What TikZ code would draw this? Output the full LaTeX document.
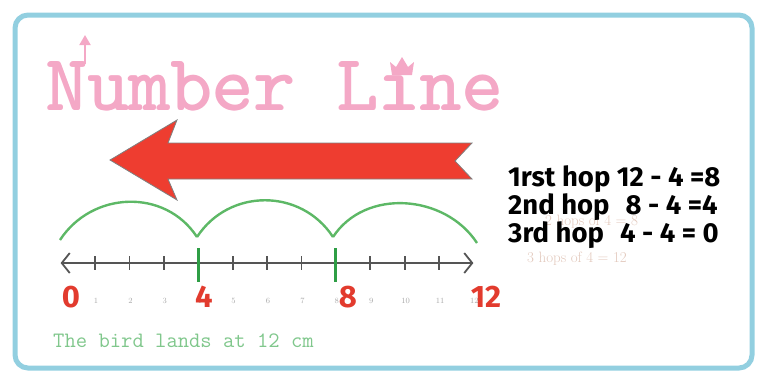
\documentclass[tikz,border=0pt]{standalone}
\usepackage{graphicx}
\usepackage{fontspec}
\newfontfamily\fira{Fira Sans}
\usetikzlibrary{arrows.meta}
\definecolor{bordercol}{HTML}{92CFE0}
\definecolor{titlepink}{HTML}{F4A8C6}
\definecolor{arrowred}{HTML}{EE3D30}
\definecolor{hopgreen}{HTML}{5DB866}
\definecolor{tickgreen}{HTML}{2E9E45}
\definecolor{linegrey}{HTML}{555555}
\definecolor{numred}{HTML}{E23B2E}
\definecolor{smallgrey}{HTML}{A8A8A8}
\definecolor{textgreen}{HTML}{80C78C}
\definecolor{faintbrown}{HTML}{E2C8BC}
\begin{document}
\begin{tikzpicture}[x=1pt,y=-1pt,
  hop/.style={draw=hopgreen, line width=2.4pt},
  tickmark/.style={draw=linegrey, line width=1.8pt},
  bigtick/.style={draw=tickgreen, line width=3pt},
  rednum/.style={text=numred, font=\fira\bfseries\fontsize{31}{31}\selectfont, inner sep=0pt, anchor=base},
  smallnum/.style={text=smallgrey, font=\fontsize{8}{8}\selectfont, inner sep=0pt, anchor=base},
  hoptext/.style={font=\fira\bfseries\fontsize{27.5}{27.5}\selectfont, inner sep=0pt, anchor=base west},
  faint/.style={text=faintbrown, font=\fontsize{15}{15}\selectfont, inner sep=0pt, anchor=base west},
  titletext/.style={anchor=base west, inner sep=0pt, text=titlepink},
  ]
\useasboundingbox (0,0) rectangle (757,376);
\draw[bordercol, line width=5pt, rounded corners=13pt] (15,15) rectangle (752,368);
% title (overlaid copies for a heavier stroke)
\node[titletext] (titlea) at (45.4,110) {\resizebox{457pt}{48pt}{\ttfamily Number L\i ne}};
\node[titletext] (titleb) at (46.6,110) {\resizebox{457pt}{48pt}{\ttfamily Number L\i ne}};
\node[titletext] (title) at (46,109.4) {\resizebox{457pt}{48pt}{\ttfamily Number L\i ne}};
\draw[titlepink, line width=2pt, -{Triangle[length=10pt,width=11pt]}] (85,64) -- (85,35);
\fill[titlepink] (392,75) -- (390,62) -- (396,67) -- (402,57) -- (408,67) -- (414,62) -- (412,75) -- cycle;
% big red arrow
\filldraw[fill=arrowred, draw=gray, line width=0.8pt]
  (110,160) -- (177,120) -- (168,143) -- (472,143) -- (455,161) -- (472,179)
  -- (168,179) -- (177,200) -- cycle;
% number line coordinates
\foreach \i in {0,...,12} \coordinate (p\i) at ({60.6+34.4*\i},263);
\coordinate (a0) at (60,240);
\coordinate (a1) at (197,237);
\coordinate (a2) at (333,237);
\coordinate (a3) at (477,243);
% hops
\draw[hop] (a0) .. controls +(32,-49) and +(-32,-49) .. (a1);
\draw[hop] (a1) .. controls +(32,-49) and +(-32,-49) .. (a2);
\draw[hop] (a2) .. controls +(32,-49) and +(-32,-49) .. (a3);
% line
\draw[linegrey, line width=1.8pt, {Straight Barb[length=8pt,width=20pt]}-{Straight Barb[length=8pt,width=20pt]}] (p0) -- (p12);
\foreach \i in {1,2,3,5,6,7,9,10,11} \draw[tickmark] ([yshift=7pt]p\i) -- ([yshift=-7pt]p\i);
\draw[bigtick] ([yshift=15pt]p4) -- ([yshift=-19pt]p4);
\draw[bigtick] ([yshift=15pt]p8) -- ([yshift=-19pt]p8);
% small numbers
\foreach \i in {1,...,12} \node[smallnum] (s\i) at ({61.6+34.4*\i},303) {\i};
% red numbers
\node[rednum] (n0) at (71,307) {0};
\node[rednum] (n4) at (204,307) {4};
\node[rednum] (n8) at (348,307) {8};
\node[rednum] (n12) at (486,307) {12};
% bottom text
\node[anchor=base west, text=textgreen, font=\ttfamily\fontsize{22}{22}\selectfont, inner sep=0pt] (bird) at (53,347) {The bird lands at 12 cm};
% hop texts
\node[faint] (f2) at (545,225) {2 hops of 4 = 8};
\node[faint] (f3) at (527,262) {3 hops of 4 = 12};
\node[hoptext] (h1) at (508,186) {1rst hop 12 - 4 =8};
\node[hoptext] (h2) at (508,214) {2nd hop\hspace{16pt}8 - 4 =4};
\node[hoptext] (h3) at (508,242) {3rd hop\hspace{16pt}4 - 4 = 0};
\end{tikzpicture}
\end{document}
